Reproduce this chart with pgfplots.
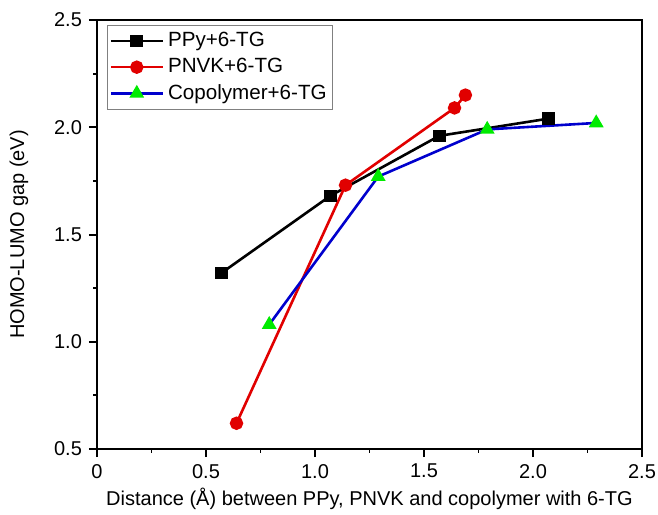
\documentclass[border=0pt]{standalone}
\usepackage{pgfplots}
\pgfplotsset{compat=1.18}
\usepackage{fontspec}
\setmainfont{Liberation Sans}
\definecolor{cred}{RGB}{225,0,0}
\definecolor{cblue}{RGB}{0,0,205}
\definecolor{cgreen}{RGB}{0,235,0}
\begin{document}
\begin{tikzpicture}
\begin{axis}[
  width=272.5pt, height=214.5pt, scale only axis,
  xmin=0, xmax=2.5, ymin=0.5, ymax=2.5,
  clip=false,
  xtick={0,0.5,1,1.5,2,2.5}, xticklabels={0,0.5,1.0,1.5,2.0,2.5},
  ytick={0.5,1,1.5,2,2.5}, yticklabels={0.5,1.0,1.5,2.0,2.5},
  xtick pos=bottom, ytick pos=left, tick align=outside,
  major tick length=4pt,
  axis line style={line width=1pt},
  major tick style={line width=1pt, black},
  tick label style={font=\fontsize{10}{12}\selectfont},
  label style={font=\fontsize{10}{12}\selectfont},
  xlabel={Distance (Å) between PPy, PNVK and copolymer with 6-TG},
  ylabel={HOMO-LUMO gap (eV)},
  xlabel style={at={(axis description cs:0.5,0)}, yshift=-25pt, anchor=center},
  ylabel style={at={(axis description cs:0,0.5)}, yshift=39pt, anchor=center},
  legend style={at={(axis description cs:0,1)}, anchor=north west, xshift=5pt, yshift=-2.5pt,
    draw=gray, line width=0.5pt, font=\fontsize{10.3}{12}\selectfont,
    inner xsep=1pt, inner ysep=1.5pt, row sep=0.3pt},
  legend cell align=left,
  legend image code/.code={\draw[#1, mark repeat=2, mark phase=2] plot coordinates {(0pt,0pt) (13pt,0pt) (26pt,0pt)};},
]
\pgfplotsinvokeforeach{0,0.5,1,1.5,2,2.5}{\draw[line width=1pt, black] (axis cs:#1,0.5) -- ++(0pt,-3.8pt);}
\pgfplotsinvokeforeach{0.25,0.75,1.25,1.75,2.25}{\draw[line width=0.9pt, black] (axis cs:#1,0.5) -- ++(0pt,-2pt);}
\pgfplotsinvokeforeach{0.5,1,1.5,2,2.5}{\draw[line width=1pt, black] (axis cs:0,#1) -- ++(-3.8pt,0pt);}
\pgfplotsinvokeforeach{0.75,1.25,1.75,2.25}{\draw[line width=0.9pt, black] (axis cs:0,#1) -- ++(-2pt,0pt);}
\addplot[black, line width=1.3pt, mark=square*, mark size=2.5pt, mark options={solid}]
  coordinates {(0.57,1.32) (1.07,1.68) (1.57,1.96) (2.07,2.04)};
\addlegendentry{PPy+6-TG}
\addplot[cred, line width=1.3pt, mark=*, mark size=2.7pt, mark options={solid}]
  coordinates {(0.64,0.62) (1.14,1.73) (1.64,2.09) (1.69,2.15)};
\addlegendentry{PNVK+6-TG}
\addplot[cblue, line width=1.3pt, mark=triangle*, mark size=3pt, mark options={solid, fill=cgreen, draw=cgreen}]
  coordinates {(0.79,1.08) (1.29,1.77) (1.79,1.99) (2.29,2.02)};
\addlegendentry{Copolymer+6-TG}
\end{axis}
\pgfresetboundingbox
\path[use as bounding box] ([shift={(-48.5pt,-32.5pt)}]current axis.south west) rectangle ([shift={(8pt,10pt)}]current axis.north east);
\end{tikzpicture}
\end{document}
